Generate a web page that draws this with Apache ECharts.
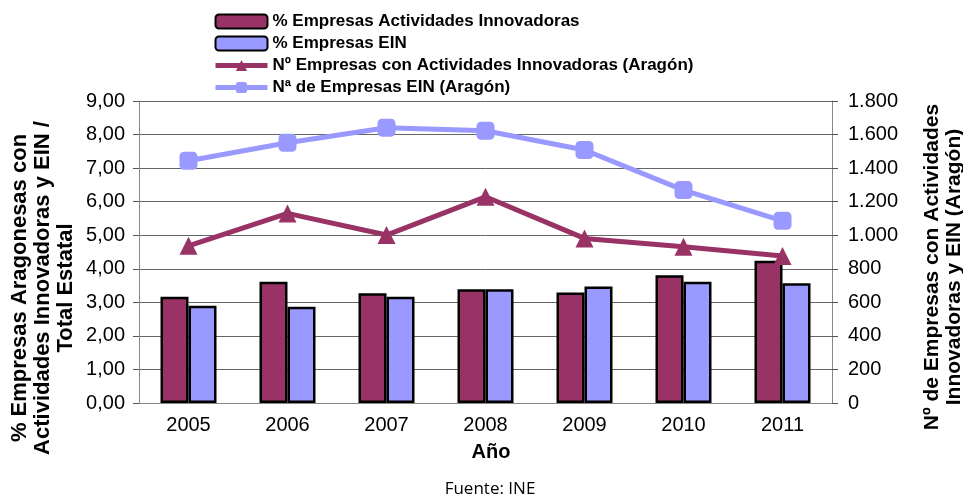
<!DOCTYPE html>
<html>
<head>
<meta charset="utf-8">
<script src="https://cdn.jsdelivr.net/npm/echarts@6/dist/echarts.min.js"></script>
<style>
  html, body { margin: 0; padding: 0; background: #fff; }
  #chart { width: 963px; height: 500px; }
</style>
</head>
<body>
<div id="chart"></div>
<script>
// años
var years = ['2005', '2006', '2007', '2008', '2009', '2010', '2011'];
// % sobre total estatal (eje izquierdo)
var pctInnovadoras = [3.17, 3.61, 3.27, 3.39, 3.29, 3.81, 4.24];
var pctEIN = [2.90, 2.87, 3.17, 3.39, 3.47, 3.61, 3.57];
// número de empresas en Aragón (eje derecho)
var numInnovadoras = [937, 1130, 1001, 1229, 981, 931, 876];
var numEIN = [1444, 1551, 1641, 1623, 1508, 1269, 1086];

var maroon = '#993366';
var lilac = '#9999FF';
var font = "'Liberation Sans', Arial, sans-serif";

var chart = echarts.init(document.getElementById('chart'));
chart.setOption({
    animation: false,
    textStyle: { fontFamily: font },
    legend: {
        orient: 'vertical',
        left: 208,
        top: 8,
        itemWidth: 52,
        itemHeight: 14,
        itemGap: 5,
        textStyle: { fontSize: 17, fontWeight: 'bold', color: '#000', fontFamily: font },
        data: [
            { name: '% Empresas Actividades Innovadoras' },
            { name: '% Empresas EIN' },
            { name: 'Nº Empresas con Actividades Innovadoras (Aragón)', lineStyle: { width: 5 } },
            { name: 'Nª de Empresas EIN (Aragón)', lineStyle: { width: 5 } }
        ]
    },
    grid: { left: 139, right: 131, top: 101, bottom: 97 },
    xAxis: {
        type: 'category',
        data: years,
        axisLine: { lineStyle: { color: '#888', width: 1 } },
        axisTick: { length: 6, lineStyle: { color: '#555' } },
        axisLabel: { fontSize: 20, color: '#000', margin: 12, fontFamily: font }
    },
    yAxis: [{
        type: 'value',
        min: 0, max: 9, interval: 1,
        axisLine: { show: true, lineStyle: { color: '#888' } },
        axisTick: { show: true, length: 6, lineStyle: { color: '#555' } },
        splitLine: { lineStyle: { color: '#666' } },
        axisLabel: {
            fontSize: 20, color: '#000', margin: 14, fontFamily: font,
            formatter: function (v) { return v.toFixed(2).replace('.', ','); }
        }
    }, {
        type: 'value',
        min: 0, max: 1800, interval: 200,
        axisLine: { show: true, lineStyle: { color: '#888' } },
        axisTick: { show: true, length: 6, lineStyle: { color: '#555' } },
        splitLine: { show: false },
        axisLabel: {
            fontSize: 20, color: '#000', margin: 16, fontFamily: font,
            formatter: function (v) { return String(v).replace(/\B(?=(\d{3})+(?!\d))/g, '.'); }
        }
    }],
    graphic: [{
        type: 'text',
        x: 43, y: 288,
        rotation: Math.PI / 2,
        style: {
            text: '% Empresas Aragonesas con\nActividades Innovadoras y EIN /\nTotal Estatal',
            font: 'bold 22px ' + font,
            lineHeight: 23,
            align: 'center',
            verticalAlign: 'middle',
            fill: '#000'
        }
    }, {
        type: 'text',
        x: 943, y: 267,
        rotation: Math.PI / 2,
        style: {
            text: 'Nº de Empresas con Actividades\nInnovadoras y EIN (Aragón)',
            font: 'bold 21px ' + font,
            lineHeight: 22,
            align: 'center',
            verticalAlign: 'middle',
            fill: '#000'
        }
    }, {
        type: 'text',
        x: 491, y: 452,
        style: {
            text: 'Año',
            font: 'bold 20px ' + font,
            align: 'center',
            verticalAlign: 'middle',
            fill: '#000'
        }
    }, {
        type: 'text',
        x: 490, y: 489,
        style: {
            text: 'Fuente: INE',
            font: "17px 'Open Sans', sans-serif",
            align: 'center',
            verticalAlign: 'middle',
            fill: '#000'
        }
    }],
    series: [{
        name: '% Empresas Actividades Innovadoras',
        type: 'bar',
        yAxisIndex: 0,
        barWidth: 28,
        barGap: '0%',
        itemStyle: { color: maroon, borderColor: '#000', borderWidth: 2.5 },
        data: pctInnovadoras
    }, {
        name: '% Empresas EIN',
        type: 'bar',
        yAxisIndex: 0,
        barWidth: 28,
        barGap: '0%',
        itemStyle: { color: lilac, borderColor: '#000', borderWidth: 2.5 },
        data: pctEIN
    }, {
        name: 'Nº Empresas con Actividades Innovadoras (Aragón)',
        type: 'line',
        yAxisIndex: 1,
        symbol: 'triangle',
        symbolSize: 18,
        lineStyle: { color: maroon, width: 5 },
        itemStyle: { color: maroon },
        data: numInnovadoras
    }, {
        name: 'Nª de Empresas EIN (Aragón)',
        type: 'line',
        yAxisIndex: 1,
        symbol: 'roundRect',
        symbolSize: 18,
        lineStyle: { color: lilac, width: 5 },
        itemStyle: { color: lilac },
        data: numEIN
    }]
});
</script>
</body>
</html>
